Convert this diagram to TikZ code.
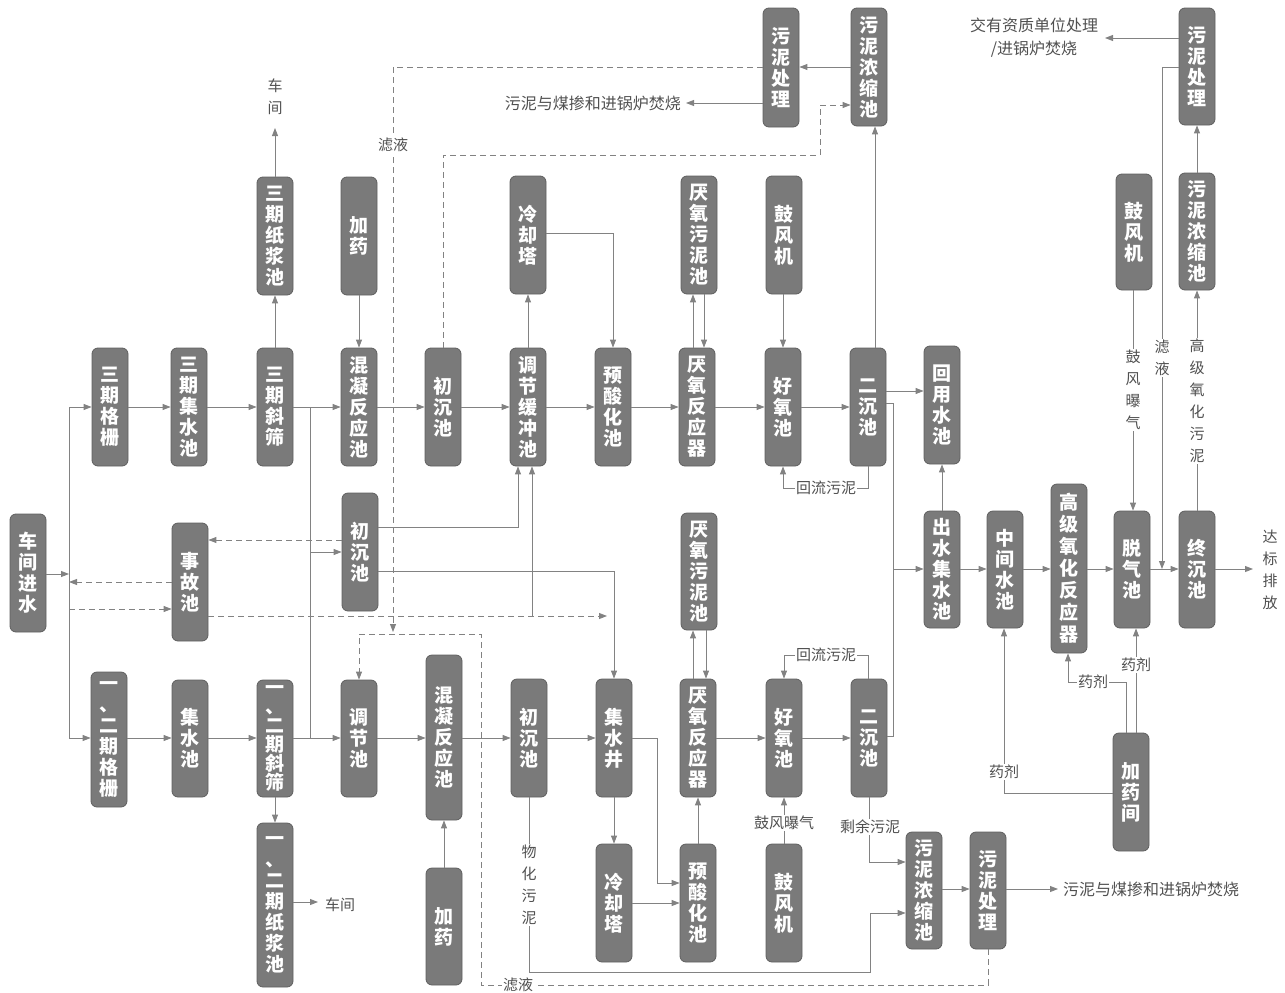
\documentclass[tikz,border=0pt]{standalone}
\usepackage{fontspec}
\newfontfamily\cjk{Noto Sans CJK SC}
\usetikzlibrary{arrows.meta}
\definecolor{boxfill}{RGB}{122,122,122}
\definecolor{boxedge}{RGB}{95,95,95}
\definecolor{linec}{RGB}{130,130,130}
\definecolor{labc}{RGB}{80,80,80}
\tikzset{
 pbox/.style={rounded corners=6pt, fill=boxfill, draw=boxedge, line width=0.8pt, text=white, minimum width=36pt, inner sep=0pt, align=center, font=\cjk\bfseries\fontsize{19}{21}\selectfont},
 flow/.style={draw=linec, line width=0.9pt, -{Triangle[length=8pt,width=6pt]}},
 plain/.style={draw=linec, line width=0.9pt},
 dflow/.style={flow, dash pattern=on 6pt off 4pt},
 dplain/.style={plain, dash pattern=on 6pt off 4pt},
 lab/.style={text=labc, font=\cjk\fontsize{15}{22}\selectfont, inner sep=1pt, align=center},
 wlab/.style={lab, fill=white},
 biglab/.style={text=labc, font=\cjk\fontsize{16}{23}\selectfont, inner sep=0pt, align=center},
}
\newcommand\pbx[6][]{\node[pbox,minimum height={#5-#4},#1] (#2) at (#3,{(#4+#5)/2}) {#6};}
\newcommand\hf[3]{\draw[flow] (#1.east |- 0,#3) -- (#2.west |- 0,#3);}
\begin{document}
\begin{tikzpicture}[x=1pt,y=-1pt]
\useasboundingbox (0,0) rectangle (1285,993);
% ---------- boxes: top row
\pbx{g3}{110}{348}{466}{三\\期\\格\\栅}
\pbx{j3}{189}{348}{466}{三\\期\\集\\水\\池}
\pbx{s3}{275}{348}{466}{三\\期\\斜\\筛}
\pbx{hnA}{359}{348}{466}{混\\凝\\反\\应\\池}
\pbx{ccA}{443}{348}{466}{初\\沉\\池}
\pbx{tj}{528}{348}{466}{调\\节\\缓\\冲\\池}
\pbx{ysA}{613}{348}{466}{预\\酸\\化\\池}
\pbx{yfA}{697}{348}{466}{厌\\氧\\反\\应\\器}
\pbx{hyA}{783}{348}{466}{好\\氧\\池}
\pbx{ecA}{868}{348}{466}{二\\沉\\池}
\pbx{hyc}{942}{346}{464}{回\\用\\水\\池}
% upper boxes
\pbx{zj3}{275}{177}{295}{三\\期\\纸\\浆\\池}
\pbx{jyA}{359}{177}{295}{加\\药}
\pbx{lqA}{528}{176}{294}{冷\\却\\塔}
\pbx{ywnA}{699}{176}{294}{厌\\氧\\污\\泥\\池}
\pbx{gfA}{784}{176}{294}{鼓\\风\\机}
\pbx{wcA}{781}{8}{127}{污\\泥\\处\\理}
\pbx{ncA}{869}{8}{126}{污\\泥\\浓\\缩\\池}
\pbx{wcB}{1197}{8}{125}{污\\泥\\处\\理}
\pbx{ncB}{1197}{173}{290}{污\\泥\\浓\\缩\\池}
\pbx{gfB}{1134}{174}{290}{鼓\\风\\机}
% middle boxes
\pbx{cjjs}{28}{514}{632}{车\\间\\进\\水}
\pbx{sg}{190}{523}{641}{事\\故\\池}
\pbx{ccB}{360}{493}{611}{初\\沉\\池}
\pbx{ywnB}{699}{513}{630}{厌\\氧\\污\\泥\\池}
% right row
\pbx{cs}{942}{511}{628}{出\\水\\集\\水\\池}
\pbx{zjsc}{1005}{511}{628}{中\\间\\水\\池}
\pbx[font=\cjk\bfseries\fontsize{19}{22}\selectfont]{gj}{1069}{484}{653}{高\\级\\氧\\化\\反\\应\\器}
\pbx{tq}{1132}{511}{628}{脱\\气\\池}
\pbx{zc}{1197}{511}{628}{终\\沉\\池}
% bottom row
\pbx{g12}{109}{672}{807}{一\\、\\二\\期\\格\\栅}
\pbx{jsc}{190}{680}{797}{集\\水\\池}
\pbx[font=\cjk\bfseries\fontsize{19}{19}\selectfont]{s12}{275}{680}{797}{一\\、\\二\\期\\斜\\筛}
\pbx{tjc}{359}{680}{797}{调\\节\\池}
\pbx{hnB}{444}{655}{820}{混\\凝\\反\\应\\池}
\pbx{ccC}{529}{679}{797}{初\\沉\\池}
\pbx{jsj}{614}{679}{797}{集\\水\\井}
\pbx{yfB}{698}{679}{797}{厌\\氧\\反\\应\\器}
\pbx{hyB}{784}{679}{797}{好\\氧\\池}
\pbx{ecB}{869}{679}{797}{二\\沉\\池}
% lower boxes
\pbx{zj12}{275}{823}{987}{一\\、\\二\\期\\纸\\浆\\池}
\pbx{jyB}{444}{868}{985}{加\\药}
\pbx{lqB}{614}{844}{962}{冷\\却\\塔}
\pbx{ysB}{698}{844}{962}{预\\酸\\化\\池}
\pbx{gfC}{784}{844}{962}{鼓\\风\\机}
\pbx{ncC}{924}{832}{949}{污\\泥\\浓\\缩\\池}
\pbx{wcC}{988}{832}{949}{污\\泥\\处\\理}
\pbx{jyj}{1131}{733}{851}{加\\药\\间}

% ---------- inlet bus
\coordinate (busT) at (69,407);
\coordinate (busB) at (69,738);
\coordinate (busM) at (69,574);
\draw[plain] (busT) -- (busB);
\draw[flow] (cjjs.east |- busM) -- (busM);
\draw[flow] (busT) -- (g3.west |- busT);
\draw[flow] (busB) -- (g12.west |- busB);
\draw[dflow] (sg.west |- 0,582) -- (69,582);
\draw[dflow] (69,609) -- (sg.west |- 0,609);

% ---------- top row chain
\hf{g3}{j3}{407}
\hf{j3}{s3}{407}
\hf{s3}{hnA}{407}
\hf{hnA}{ccA}{407}
\hf{ccA}{tj}{407}
\hf{tj}{ysA}{407}
\hf{ysA}{yfA}{407}
\hf{yfA}{hyA}{407}
\hf{hyA}{ecA}{407}
\coordinate (jx) at (310,407);
\draw[plain] (jx) -- (310,738);
\draw[flow] (310,552) -- (ccB.west |- 0,552);
\draw[dflow] (ccB.west |- 0,540) -- (sg.east |- 0,540);
\draw[dflow] (sg.east |- 0,616) -- (607,616);
\draw[flow] (532,616) -- (tj.south -| 532,0);
\draw[flow] (ccB.east |- 0,527) -- (518,527) -- (tj.south -| 518,0);
\draw[flow] (ccB.east |- 0,571) -- (614,571) -- (jsj.north);
\draw[flow] (tj.north) -- (lqA.south);
\draw[flow] (lqA.east |- 0,233) -- (ysA.north |- 0,233) -- (ysA.north);
\draw[flow] (yfA.north -| 693,0) -- (ywnA.south -| 693,0);
\draw[flow] (ywnA.south -| 704,0) -- (yfA.north -| 704,0);
\draw[flow] (gfA.south -| 783,0) -- (hyA.north);
\draw[flow] (ecA.south) -- (ecA.south |- 0,488) -- (hyA.south |- 0,488) -- (hyA.south);
\node[wlab] (hlA) at (826,488) {回流污泥};
\draw[flow] (ecA.north -| 875,0) -- (ncA.south -| 875,0);
\draw[flow] (ncA.west |- 0,67) -- (wcA.east |- 0,67);
\draw[flow] (wcA.west |- 0,103) -- (686,103);
\node[biglab, anchor=east] (outA) at (681,103) {污泥与煤掺和进锅炉焚烧};
\draw[dflow] (ccA.north) -- (443,155) -- (820,155) -- (820,105) -- (ncA.west |- 0,105);
\draw[dflow] (wcA.west |- 0,67) -- (393,67) -- (393,632);
\node[wlab] (lyA) at (393,145) {滤液};
\draw[dflow] (wcC.south) -- (wcC.south |- 0,985) -- (481,985) -- (481,634) -- (359,634) -- (tjc.north);
\node[wlab] (lyB) at (518,985) {滤液};
\draw[flow] (jyA.south) -- (hnA.north);
\draw[flow] (s3.north) -- (zj3.south);
\draw[flow] (zj3.north) -- (275,128);
\node[lab] (cjA) at (275,97) {车\\间};
\draw[flow] (ecA.east |- 0,391) -- (hyc.west |- 0,391);
\draw[plain] (ecA.east |- 0,403) -- (893,403) -- (893,736) -- (ecB.east |- 0,736);
\draw[flow] (893,569) -- (cs.west |- 0,569);
\draw[flow] (cs.north) -- (hyc.south);

% ---------- right row
\hf{cs}{zjsc}{569}
\hf{zjsc}{gj}{569}
\hf{gj}{tq}{569}
\hf{tq}{zc}{569}
\draw[flow] (zc.east |- 0,569) -- (1253,569);
\node[lab] (dbpf) at (1270,570) {达\\标\\排\\放};
\draw[flow] (gfB.south -| 1133,0) -- (tq.north -| 1133,0);
\node[wlab] (gfbq) at (1133,390) {鼓\\风\\曝\\气};
\draw[flow] (wcB.west |- 0,67) -- (1162,67) -- (1162,569);
\node[wlab] (lyC) at (1162,358) {滤\\液};
\draw[flow] (zc.north) -- (ncB.south);
\node[wlab] (gjwn) at (1197,401) {高\\级\\氧\\化\\污\\泥};
\draw[flow] (ncB.north) -- (wcB.south);
\draw[flow] (wcB.west |- 0,38) -- (1105,38);
\node[biglab] (jyzz) at (1034,38) {交有资质单位处理\\/进锅炉焚烧};

% ---------- bottom row chain
\hf{g12}{jsc}{738}
\hf{jsc}{s12}{738}
\hf{s12}{tjc}{738}
\hf{tjc}{hnB}{738}
\hf{hnB}{ccC}{738}
\hf{ccC}{jsj}{738}
\draw[flow] (jsj.east |- 0,738) -- (657,738) -- (657,883) -- (ysB.west |- 0,883);
\draw[flow] (jsj.south) -- (lqB.north);
\draw[flow] (lqB.east |- 0,903) -- (ysB.west |- 0,903);
\draw[flow] (ysB.north) -- (yfB.south);
\draw[flow] (yfB.north -| 693,0) -- (ywnB.south -| 693,0);
\draw[flow] (ywnB.south -| 706,0) -- (yfB.north -| 706,0);
\hf{yfB}{hyB}{738}
\hf{hyB}{ecB}{738}
\draw[flow] (ecB.north -| 868,0) -- (868,655) -- (784,655) -- (hyB.north);
\node[wlab] (hlB) at (826,655) {回流污泥};
\draw[flow] (gfC.north) -- (hyB.south);
\node[wlab] (gfbq2) at (784,823) {鼓风曝气};
\draw[flow] (ecB.south) -- (ecB.south |- 0,862) -- (ncC.west |- 0,862);
\node[wlab] (sywn) at (870,827) {剩余污泥};
\draw[flow] (ccC.south) -- (ccC.south |- 0,972) -- (870,972) -- (870,913) -- (ncC.west |- 0,913);
\node[wlab] (whwn) at (529,885) {物\\化\\污\\泥};
\draw[flow] (ncC.east |- 0,889) -- (wcC.west |- 0,889);
\draw[flow] (wcC.east |- 0,889) -- (1058,889);
\node[biglab, anchor=west] (outC) at (1063,889) {污泥与煤掺和进锅炉焚烧};
\draw[flow] (s12.south) -- (zj12.north);
\draw[flow] (zj12.east |- 0,902) -- (318,902);
\node[lab, anchor=west] (cjB) at (324,905) {车间};
\draw[flow] (jyB.north) -- (hnB.south);
\draw[flow] (jyj.west |- 0,793) -- (1004,793) -- (zjsc.south -| 1004,0);
\node[wlab] (yjA) at (1004,772) {药剂};
\draw[flow] (jyj.north -| 1126,0) -- (1126,682) -- (1068,682) -- (gj.south -| 1068,0);
\node[wlab] (yjB) at (1093,682) {药剂};
\draw[flow] (jyj.north -| 1136,0) -- (tq.south -| 1136,0);
\node[wlab] (yjC) at (1136,665) {药剂};
\end{tikzpicture}
\end{document}
